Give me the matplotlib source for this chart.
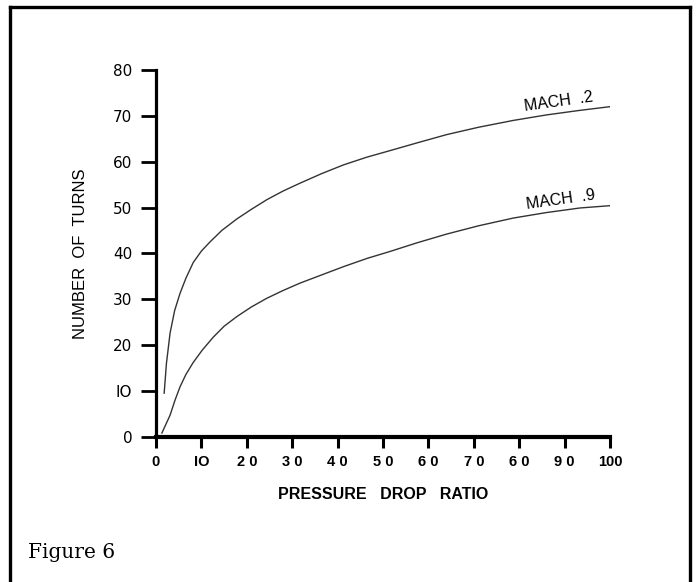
import matplotlib
matplotlib.use("Agg")
import matplotlib.pyplot as plt
from matplotlib.lines import Line2D

# values
mach2_x = [1.8, 2.3, 3.1, 4.1, 5.3, 6.6, 8.2, 10.0, 11.9, 14.5, 17.8, 21.0, 24.4,
           28.0, 31.7, 36.5, 41.3, 46.5, 51.5, 57.5, 64.0, 71.0, 78.7, 86.0, 93.4, 100.0]
mach2_y = [9.5, 16.0, 22.6, 27.5, 31.3, 34.6, 38.0, 40.5, 42.5, 45.0, 47.5, 49.6, 51.7,
           53.6, 55.3, 57.4, 59.3, 61.0, 62.4, 64.1, 65.9, 67.5, 69.0, 70.2, 71.2, 72.0]
mach9_x = [1.3, 3.1, 4.2, 5.3, 6.6, 8.2, 10.2, 12.6, 15.0, 17.8, 21.0, 24.4, 28.0,
           31.7, 36.5, 41.3, 46.5, 51.5, 57.5, 64.0, 71.0, 78.7, 86.0, 93.4, 100.0]
mach9_y = [0.8, 4.7, 8.0, 10.9, 13.6, 16.2, 18.9, 21.7, 24.1, 26.2, 28.3, 30.2, 31.9,
           33.5, 35.3, 37.1, 38.9, 40.4, 42.3, 44.2, 46.0, 47.7, 48.9, 49.9, 50.4]

x_ticks = [0, 10, 20, 30, 40, 50, 60, 70, 80, 90, 100]
x_tick_labels = ["0", "IO", "2 0", "3 0", "4 0", "5 0", "6 0", "7 0", "6 0", "9 0", "100"]
y_ticks = [0, 10, 20, 30, 40, 50, 60, 70, 80]
y_tick_labels = ["0", "IO", "20", "30", "40", "50", "60", "70", "80"]

plt.rcParams['font.family'] = ['Liberation Sans', 'DejaVu Sans']

fig = plt.figure(figsize=(6.96, 5.82), dpi=100)
ax = fig.add_axes([156 / 696, 145.3 / 582, 454 / 696, 366.7 / 582])

ax.plot(mach2_x, mach2_y, color='#333333', lw=1.0)
ax.plot(mach9_x, mach9_y, color='#333333', lw=1.0)

ax.set_xlim(0, 100)
ax.set_ylim(0, 80)

for side in ['top', 'right']:
    ax.spines[side].set_visible(False)
ax.spines['left'].set_linewidth(2.3)
ax.spines['bottom'].set_linewidth(3.0)

ax.set_xticks(x_ticks)
ax.set_xticklabels(x_tick_labels, fontsize=10.5, fontweight='bold')
ax.set_yticks(y_ticks)
ax.set_yticklabels(y_tick_labels, fontsize=11, family=['DejaVu Sans'])
ax.tick_params(axis='x', direction='out', length=8, width=2.2, pad=5)
ax.tick_params(axis='y', direction='out', length=11, width=2.0, pad=6)

ax.set_xlabel("PRESSURE   DROP   RATIO", fontsize=11.5, fontweight='bold', labelpad=13)
ax.set_ylabel("NUMBER  OF  TURNS", fontsize=12, labelpad=18)

ax.text(88.8, 73.0, "MACH  .2", fontsize=11.5, rotation=8, ha='center', va='center')
ax.text(89.2, 51.6, "MACH  .9", fontsize=11.5, rotation=8, ha='center', va='center')

# page frame (left, top, right edges)
W, H = 696, 582
frame_kw = dict(color='black', lw=2.4, transform=fig.transFigure)
fig.add_artist(Line2D([10 / W, 10 / W], [0, 1 - 7 / H], **frame_kw))
fig.add_artist(Line2D([10 / W, 690 / W], [1 - 7 / H, 1 - 7 / H], **frame_kw))
fig.add_artist(Line2D([690 / W, 690 / W], [0, 1 - 7 / H], **frame_kw))

fig.text(28 / W, 1 - 553 / H, "Figure 6", fontsize=14.5, va='center', ha='left',
         family=['DejaVu Serif'])

fig.savefig("out.png", dpi=100)
